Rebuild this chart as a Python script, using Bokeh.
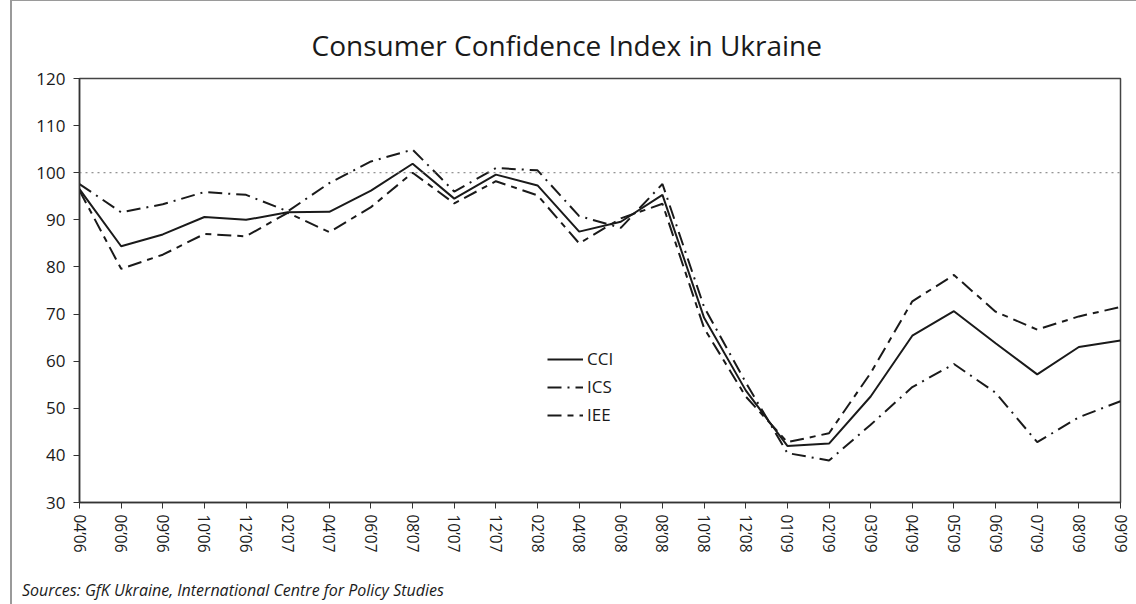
from bokeh.plotting import figure
from bokeh.layouts import column
from bokeh.models import (Range1d, FixedTicker, Span, Legend, LegendItem, Div,
                          ColumnDataSource)
from bokeh.embed import file_html
from bokeh.resources import INLINE

labels = ["04’06", "06’06", "09’06", "10’06", "12’06", "02’07", "04’07", "06’07",
          "08’07", "10’07", "12’07", "02’08", "04’08", "06’08", "08’08", "10’08",
          "12’08", "01’09", "02’09", "03’09", "04’09", "05’09", "06’09", "07’09",
          "08’09", "09’09"]

cci = [96.5, 84.4, 86.9, 90.6, 90.0, 91.6, 91.7, 96.2, 101.9, 94.5, 99.6, 97.3, 87.5,
       89.6, 95.3, 69.2, 53.8, 42.0, 42.5, 52.5, 65.4, 70.6, 63.8, 57.2, 63.0, 64.4]
ics = [97.6, 91.6, 93.3, 95.9, 95.3, 91.8, 97.8, 102.4, 104.9, 96.0, 101.0, 100.5, 90.8,
       88.3, 97.6, 71.5, 55.5, 40.5, 38.9, 46.5, 54.5, 59.4, 53.3, 42.8, 48.1, 51.5]
iee = [96.2, 79.6, 82.6, 87.0, 86.5, 91.5, 87.4, 92.7, 100.0, 93.5, 98.2, 95.2, 85.0,
       90.3, 93.4, 67.0, 52.5, 42.8, 44.7, 57.5, 72.7, 78.3, 70.5, 66.7, 69.5, 71.5]

y_ticks = [30, 40, 50, 60, 70, 80, 90, 100, 110, 120]
reference_level = 100

FONT = "Open Sans"
INK = "#1a1a1a"

xs = list(range(len(labels)))
src = ColumnDataSource(dict(x=xs, cci=cci, ics=ics, iee=iee))

p = figure(width=1122, height=571, output_backend="svg", toolbar_location=None,
           x_range=Range1d(0, len(labels) - 1), y_range=Range1d(30, 120),
           min_border_left=67, min_border_right=14, min_border_top=77,
           min_border_bottom=70)

p.title.text = "Consumer Confidence Index in Ukraine"
p.title.align = "left"
p.title.offset = 232
p.title.text_font = FONT
p.title.text_font_size = "28px"
p.title.text_font_style = "normal"
p.title.text_color = INK
p.title.standoff = 29

p.xgrid.visible = False
p.ygrid.visible = False
p.outline_line_color = "#444444"
p.outline_line_width = 1.5

p.xaxis.ticker = FixedTicker(ticks=xs)
p.xaxis.major_label_overrides = {i: l for i, l in enumerate(labels)}
p.xaxis.major_label_orientation = "vertical"
p.yaxis.ticker = FixedTicker(ticks=y_ticks)
for ax in (p.xaxis, p.yaxis):
    ax.major_label_text_font = FONT
    ax.major_label_text_color = INK
    ax.axis_line_color = "#333333"
    ax.axis_line_width = 1.5
    ax.major_tick_line_color = "#333333"
    ax.major_tick_in = 0
    ax.major_tick_out = 6
    ax.minor_tick_line_color = None
p.xaxis.major_label_text_font_size = "15.5px"
p.yaxis.major_label_text_font_size = "17px"
p.xaxis.major_label_standoff = 6
p.yaxis.major_label_standoff = 8

p.add_layout(Span(location=reference_level, dimension="width", line_color="#777777",
                  line_width=1, line_dash="dotted"))

r_cci = p.line("x", "cci", source=src, line_color=INK, line_width=2)
r_ics = p.line("x", "ics", source=src, line_color=INK, line_width=2,
               line_dash="14 6 2 6")
r_iee = p.line("x", "iee", source=src, line_color=INK, line_width=2,
               line_dash="14 6 6 6")

legend = Legend(items=[LegendItem(label="CCI", renderers=[r_cci]),
                       LegendItem(label="ICS", renderers=[r_ics]),
                       LegendItem(label="IEE", renderers=[r_iee])],
                location=(468, 76))
legend.border_line_alpha = 0
legend.background_fill_alpha = 0
legend.label_text_font = FONT
legend.label_text_font_size = "17px"
legend.label_text_color = INK
legend.glyph_width = 36
legend.glyph_height = 20
legend.spacing = 5
legend.padding = 0
legend.margin = 0
legend.label_standoff = 4
p.add_layout(legend)

sources = Div(text="Sources: GfK Ukraine, International Centre for Policy Studies",
              width=1122, height=28,
              styles={"font-family": "Open Sans", "font-size": "16px",
                      "font-style": "italic", "color": INK, "line-height": "22px",
                      "padding-left": "5px", "padding-top": "2px",
                      "box-sizing": "border-box"})

page = column(p, sources, spacing=0,
              styles={"margin-left": "10px", "border-left": "2px solid #9a9a9a",
                      "border-top": "1px solid #9a9a9a",
                      "border-right": "1px solid #9a9a9a"})

open("out.html", "w").write(file_html(page, INLINE))
